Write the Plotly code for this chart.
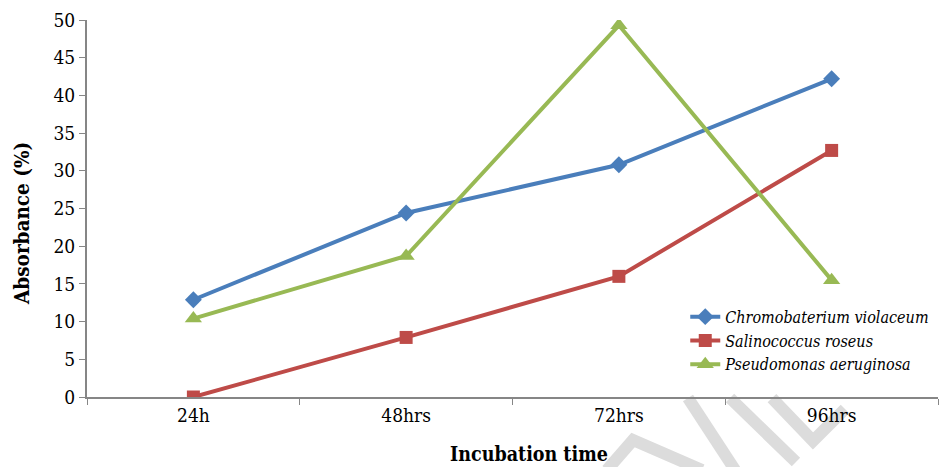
import plotly.graph_objects as go

# Incubation time points and absorbance (%) per organism
times = ["24h", "48hrs", "72hrs", "96hrs"]
chromobacterium = [12.9, 24.4, 30.8, 42.2]
salinococcus = [0.0, 7.9, 16.0, 32.7]
pseudomonas = [10.4, 18.7, 49.3, 15.5]

series = [
    ("Chromobaterium violaceum", chromobacterium, "#4A7EBB", "diamond", 13),
    ("Salinococcus roseus", salinococcus, "#BE4B48", "square", 13),
    ("Pseudomonas aeruginosa", pseudomonas, "#98B954", "triangle-up", 15),
]

serif = "DejaVu Serif Condensed, DejaVu Serif"

W, H = 944, 467
ML, MR, MT, MB = 87, 6, 20, 70
PW, PH = W - ML - MR, H - MT - MB


def px(x, y):
    """Pixel position on the page -> paper coordinates."""
    return (x - ML) / PW, (H - MB - y) / PH


fig = go.Figure()
for name, vals, color, symbol, size in series:
    fig.add_trace(go.Scatter(
        x=times, y=vals, name=name, mode="lines+markers",
        line=dict(color=color, width=4),
        marker=dict(symbol=symbol, size=size, color=color, line=dict(width=0)),
    ))

# faint diagonal background stripes under the lower-right axis area
stripes = [
    [(607, 470), (633, 440), (702, 470)],
    [(688, 398), (735, 470)],
    [(730, 398), (796, 462)],
    [(772, 398), (813, 441), (845, 409)],
]
shapes = []
for pts in stripes:
    path = ""
    for i, (x, y) in enumerate(pts):
        u, v = px(x, y)
        path += ("M" if i == 0 else "L") + f"{u:.4f},{v:.4f} "
    shapes.append(dict(
        type="path", path=path, xref="paper", yref="paper", layer="below",
        line=dict(color="#DCDCDC", width=12),
    ))

yt_x, yt_y = px(22, 224)
xt_x, xt_y = px(529, 454)

fig.update_layout(
    width=W, height=H,
    margin=dict(l=ML, r=MR, t=MT, b=MB),
    paper_bgcolor="white", plot_bgcolor="white",
    font=dict(family=serif, size=19, color="black"),
    showlegend=True,
    legend=dict(
        x=0.703, y=0.258, xanchor="left", yanchor="top",
        font=dict(family=serif, size=16, style="italic"),
        bgcolor="rgba(0,0,0,0)", tracegroupgap=0, itemwidth=30,
    ),
    shapes=shapes,
    annotations=[
        dict(text="<b>Absorbance (%)</b>", xref="paper", yref="paper",
             x=yt_x, y=yt_y, xanchor="center", yanchor="middle",
             textangle=-90, showarrow=False,
             font=dict(family=serif, size=20.5, color="black")),
        dict(text="<b>Incubation time</b>", xref="paper", yref="paper",
             x=xt_x, y=xt_y, xanchor="center", yanchor="middle",
             showarrow=False,
             font=dict(family=serif, size=19.5, color="black")),
    ],
    xaxis=dict(
        type="category", range=[-0.5, 3.5],
        showline=True, linecolor="#868686", linewidth=2,
        ticks="outside", tickson="boundaries", ticklen=6,
        tickcolor="#868686", tickwidth=1,
        showgrid=False, zeroline=False,
        tickfont=dict(family=serif, size=19),
    ),
    yaxis=dict(
        range=[0, 50], dtick=5,
        showline=True, linecolor="#868686", linewidth=2,
        ticks="outside", ticklen=6, tickcolor="#868686", tickwidth=1,
        showgrid=False, zeroline=False,
        tickfont=dict(family=serif, size=19),
    ),
)

fig.write_html("out.html")
